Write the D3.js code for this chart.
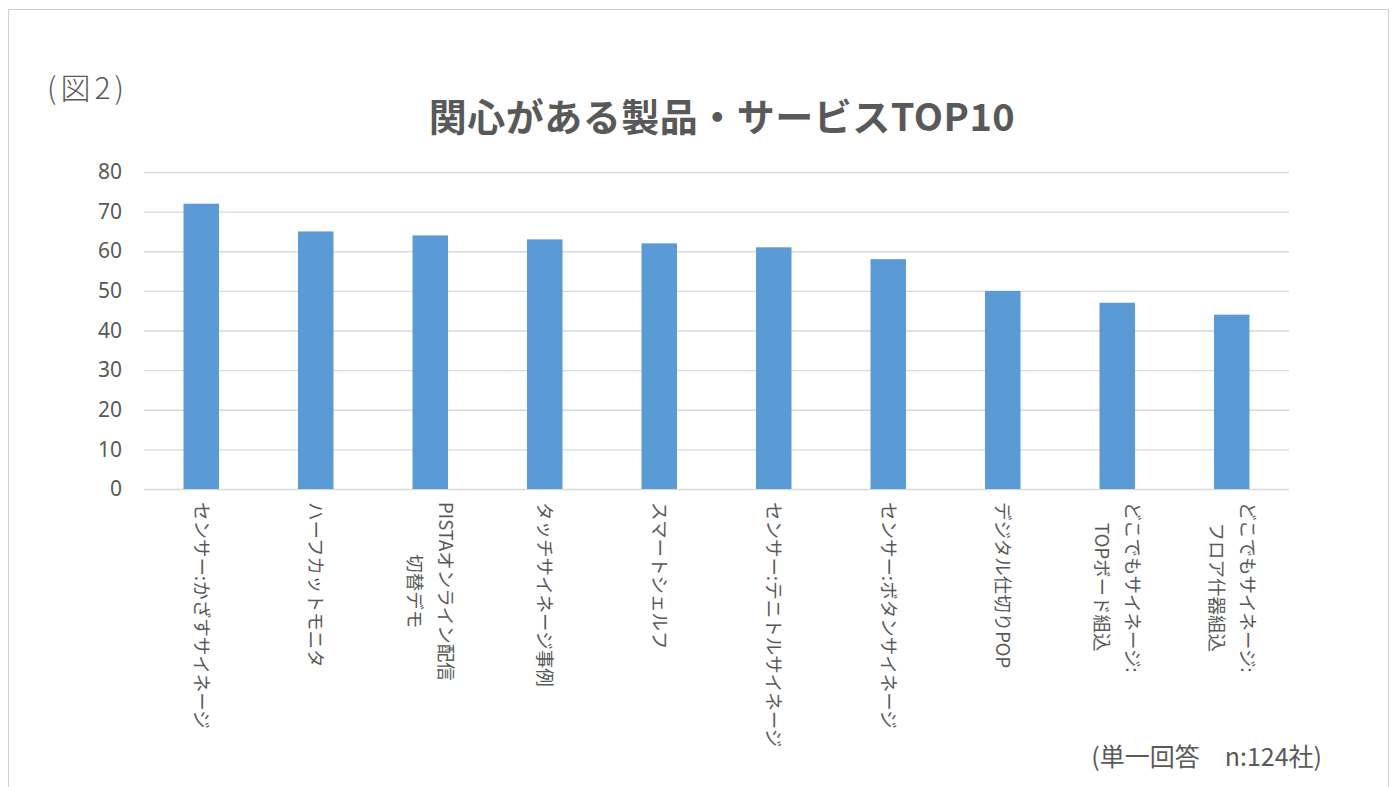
<!DOCTYPE html>
<html>
<head>
<meta charset="utf-8">
<script src="https://cdn.jsdelivr.net/npm/d3@7"></script>
<style>
  body { margin: 0; background: #fff; }
  svg { display: block; font-family: "Noto Sans CJK JP", "Noto Sans", sans-serif; }
</style>
</head>
<body>
<div id="chart"></div>
<script>
const categories = [
  ['センサー:かざすサイネージ'],
  ['ハーフカットモニタ'],
  ['PISTAオンライン配信', '切替デモ'],
  ['タッチサイネージ事例'],
  ['スマートシェルフ'],
  ['センサー:テニトルサイネージ'],
  ['センサー:ボタンサイネージ'],
  ['デジタル仕切りPOP'],
  ['どこでもサイネージ:', 'TOPボード組込'],
  ['どこでもサイネージ:', 'フロア什器組込']
]
const values = [72, 65, 64, 63, 62, 61, 58, 50, 47, 44]
const yTicks = [0, 10, 20, 30, 40, 50, 60, 70, 80]

const config = {
  width: 1399,
  height: 787,
  plot: { left: 144, right: 1289, top: 172, bottom: 489 },
  colors: { bar: '#5b9bd5', grid: '#d9d9d9', text: '#595959', frame: '#d0d0d0' }
}

const svg = d3.select('#chart')
  .append('svg')
  .attr('width', config.width)
  .attr('height', config.height)

// outer frame
svg.append('rect')
  .attr('x', 8.5).attr('y', 9.5)
  .attr('width', 1380).attr('height', 790)
  .attr('fill', 'none')
  .attr('stroke', config.colors.frame)

const x = d3.scaleBand()
  .domain(d3.range(categories.length))
  .range([config.plot.left, config.plot.right])
  .paddingInner(0.69)
  .paddingOuter(0.345)

const y = d3.scaleLinear()
  .domain([0, 80])
  .range([config.plot.bottom, config.plot.top])

// grid lines + y labels
const yAxis = d3.axisLeft(y)
  .tickValues(yTicks)
  .tickSize(-(config.plot.right - config.plot.left))
  .tickPadding(22)

const yg = svg.append('g')
  .attr('transform', `translate(${config.plot.left},0)`)
  .call(yAxis)
yg.select('.domain').remove()
yg.selectAll('.tick line').attr('stroke', config.colors.grid).attr('stroke-width', 1.3)
yg.selectAll('.tick text')
  .attr('fill', config.colors.text)
  .style('font-size', '21px')
  .style('font-family', '"Noto Sans", "DejaVu Sans", sans-serif')

// bars
svg.append('g')
  .selectAll('rect')
  .data(values)
  .enter()
  .append('rect')
  .attr('x', (d, i) => x(i))
  .attr('y', d => y(d))
  .attr('width', x.bandwidth())
  .attr('height', d => y(0) - y(d))
  .attr('fill', config.colors.bar)

// category labels, rotated 90deg, block centred on the bar
const lineGap = 31
svg.append('g')
  .selectAll('text')
  .data(categories)
  .enter()
  .append('text')
  .attr('transform', (d, i) => `translate(${x(i) + x.bandwidth() / 2},${config.plot.bottom + 13}) rotate(90)`)
  .attr('fill', config.colors.text)
  .style('font-size', '18.5px')
  .each(function (lines) {
    const t = d3.select(this)
    const node = t.append('tspan').text(lines[0])
    // measure block length from the longest line
    const widths = lines.map(s => {
      node.text(s)
      return node.node().getComputedTextLength()
    })
    node.remove()
    const block = d3.max(widths)
    lines.forEach((s, k) => {
      t.append('tspan')
        .attr('x', block / 2)
        .attr('y', (k - (lines.length - 1) / 2) * lineGap)
        .attr('dy', '0.35em')
        .attr('text-anchor', 'middle')
        .text(s)
    })
  })

// title and notes
svg.append('text')
  .attr('x', 722).attr('y', 118)
  .attr('dy', '0.35em')
  .attr('text-anchor', 'middle')
  .attr('fill', config.colors.text)
  .style('font-size', '38px')
  .style('font-weight', 'bold')
  .style('letter-spacing', '0.5px')
  .text('関心がある製品・サービスTOP10')

svg.append('text')
  .attr('x', 47).attr('y', 88)
  .attr('dy', '0.35em')
  .attr('fill', config.colors.text)
  .style('font-size', '30px')
  .style('font-weight', 300)
  .style('letter-spacing', '4px')
  .text('(図2)')

svg.append('text')
  .attr('x', 1322).attr('y', 757)
  .attr('dy', '0.35em')
  .attr('text-anchor', 'end')
  .attr('fill', config.colors.text)
  .style('font-size', '25px')
  .text('(単一回答\u3000n:124社)')
</script>
</body>
</html>
